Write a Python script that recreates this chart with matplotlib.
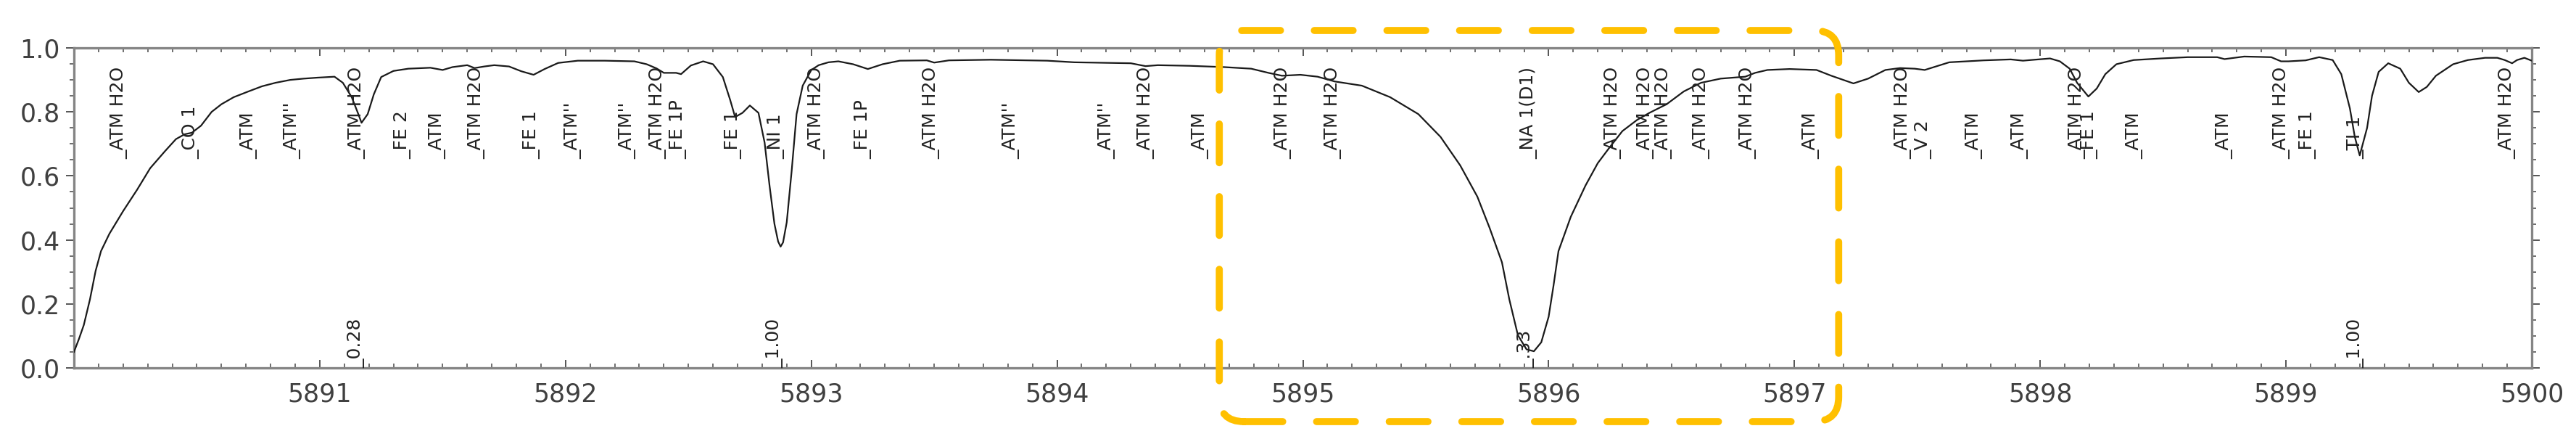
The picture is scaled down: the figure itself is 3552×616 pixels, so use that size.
import numpy as np
import matplotlib
matplotlib.use("Agg")
import matplotlib.pyplot as plt
from matplotlib.patches import FancyBboxPatch
from matplotlib.transforms import IdentityTransform
from matplotlib.ticker import MultipleLocator

# spectrum (wavelength in A, normalised flux)
WAVE = [5890.00, 5890.02, 5890.04, 5890.065, 5890.088, 5890.11, 5890.144, 5890.20, 5890.257, 5890.31,
        5890.37, 5890.415, 5890.45, 5890.48, 5890.517, 5890.56, 5890.60, 5890.65, 5890.71, 5890.765,
        5890.82, 5890.88, 5890.935, 5890.99, 5891.06, 5891.094, 5891.13, 5891.155, 5891.17, 5891.195,
        5891.22, 5891.25, 5891.30, 5891.36, 5891.42, 5891.45, 5891.50, 5891.54, 5891.60, 5891.63,
        5891.67, 5891.71, 5891.77, 5891.82, 5891.87, 5891.915, 5891.97, 5892.05, 5892.16, 5892.28,
        5892.33, 5892.37, 5892.40, 5892.45, 5892.47, 5892.51, 5892.56, 5892.60, 5892.64, 5892.67,
        5892.69, 5892.72, 5892.75, 5892.785, 5892.81, 5892.83, 5892.85, 5892.865, 5892.875, 5892.885,
        5892.90, 5892.92, 5892.94, 5892.965, 5893.00, 5893.03, 5893.07, 5893.11, 5893.17, 5893.23,
        5893.29, 5893.36, 5893.47, 5893.50, 5893.56, 5893.73, 5893.96, 5894.07, 5894.30, 5894.36,
        5894.41, 5894.54, 5894.68, 5894.79, 5894.86, 5894.915, 5894.99, 5895.06, 5895.13, 5895.24,
        5895.355, 5895.47, 5895.56, 5895.64, 5895.71, 5895.76, 5895.81, 5895.84, 5895.875, 5895.91,
        5895.94, 5895.97, 5896.00, 5896.02, 5896.04, 5896.09, 5896.15, 5896.20, 5896.245, 5896.30,
        5896.36, 5896.41, 5896.48, 5896.55, 5896.62, 5896.70, 5896.80, 5896.84, 5896.89, 5896.98,
        5897.09, 5897.15, 5897.24, 5897.30, 5897.37, 5897.43, 5897.49, 5897.53, 5897.63, 5897.77,
        5897.88, 5897.93, 5897.96, 5898.04, 5898.08, 5898.12, 5898.15, 5898.196, 5898.23, 5898.265,
        5898.31, 5898.38, 5898.49, 5898.60, 5898.72, 5898.75, 5898.83, 5898.94, 5898.98, 5899.01,
        5899.08, 5899.135, 5899.19, 5899.225, 5899.26, 5899.28, 5899.30, 5899.33, 5899.35, 5899.377,
        5899.416, 5899.465, 5899.50, 5899.54, 5899.573, 5899.61, 5899.68, 5899.74, 5899.81, 5899.86,
        5899.89, 5899.92, 5899.94, 5899.97, 5900.00]
FLUX = [0.050, 0.090, 0.134, 0.214, 0.303, 0.365, 0.419, 0.490, 0.557, 0.624,
        0.677, 0.715, 0.730, 0.735, 0.757, 0.800, 0.824, 0.846, 0.864, 0.880,
        0.891, 0.900, 0.904, 0.907, 0.910, 0.891, 0.846, 0.797, 0.766, 0.793,
        0.855, 0.909, 0.928, 0.935, 0.937, 0.938, 0.931, 0.940, 0.946, 0.937,
        0.942, 0.946, 0.942, 0.927, 0.916, 0.934, 0.953, 0.960, 0.960, 0.958,
        0.949, 0.936, 0.922, 0.922, 0.918, 0.945, 0.958, 0.949, 0.909, 0.837,
        0.784, 0.797, 0.820, 0.797, 0.704, 0.570, 0.450, 0.395, 0.379, 0.392,
        0.455, 0.615, 0.793, 0.882, 0.931, 0.946, 0.955, 0.958, 0.949, 0.934,
        0.949, 0.960, 0.961, 0.954, 0.961, 0.963, 0.960, 0.955, 0.952, 0.943,
        0.946, 0.944, 0.940, 0.935, 0.922, 0.913, 0.916, 0.910, 0.895, 0.882,
        0.846, 0.793, 0.722, 0.633, 0.535, 0.437, 0.330, 0.214, 0.102, 0.058,
        0.052, 0.080, 0.160, 0.258, 0.365, 0.472, 0.570, 0.640, 0.686, 0.740,
        0.775, 0.797, 0.824, 0.864, 0.891, 0.904, 0.910, 0.922, 0.931, 0.934,
        0.931, 0.913, 0.889, 0.904, 0.931, 0.937, 0.935, 0.931, 0.955, 0.961,
        0.964, 0.960, 0.962, 0.967, 0.958, 0.935, 0.891, 0.848, 0.873, 0.918,
        0.949, 0.962, 0.967, 0.971, 0.971, 0.965, 0.973, 0.971, 0.958, 0.958,
        0.961, 0.971, 0.962, 0.918, 0.811, 0.722, 0.664, 0.750, 0.850, 0.925,
        0.952, 0.935, 0.891, 0.862, 0.878, 0.913, 0.949, 0.962, 0.969, 0.969,
        0.962, 0.952, 0.962, 0.969, 0.960]

# line identifications (upper row)
LINE_WL = [5890.20, 5890.494, 5890.73, 5890.907, 5891.17, 5891.356, 5891.497, 5891.655, 5891.88,
           5892.05, 5892.27, 5892.395, 5892.475, 5892.70, 5892.875, 5893.04, 5893.23, 5893.505,
           5893.83, 5894.22, 5894.38, 5894.60, 5894.937, 5895.14, 5895.937, 5896.28, 5896.414,
           5896.487, 5896.64, 5896.83, 5897.086, 5897.46, 5897.544, 5897.75, 5897.934, 5898.168,
           5898.219, 5898.40, 5898.767, 5899.00, 5899.106, 5899.30, 5899.918]
LINE_ID = ["ATM H2O", "CO 1", "ATM", "ATM''", "ATM H2O", "FE 2", "ATM", "ATM H2O", "FE 1",
           "ATM''", "ATM''", "ATM H2O", "FE 1P", "FE 1", "NI 1", "ATM H2O", "FE 1P", "ATM H2O",
           "ATM''", "ATM''", "ATM H2O", "ATM", "ATM H2O", "ATM H2O", "NA 1(D1)", "ATM H2O", "ATM H2O",
           "ATM H2O", "ATM H2O", "ATM H2O", "ATM", "ATM H2O", "V 2", "ATM", "ATM", "ATM H2O",
           "FE 1", "ATM", "ATM", "ATM H2O", "FE 1", "TI 1", "ATM H2O"]

# values written at the bottom of the panel
EW_WL = [5891.166, 5892.87, 5895.925, 5899.30]
EW_TXT = ["0.28", "1.00", ".33", "1.00"]

# highlighted wavelength range (dashed box)
BOX_WL = (5894.66, 5897.18)

W, H, DPI = 3552, 616, 100
fig = plt.figure(figsize=(W / DPI, H / DPI), dpi=DPI)
ax = fig.add_axes([102 / W, 1 - 507 / H, (3491 - 102) / W, (507 - 66) / H])

ax.plot(WAVE, FLUX, color="#1a1a1a", lw=1.6, zorder=3)
ax.set_xlim(5890, 5900)
ax.set_ylim(0, 1.0)

gray = "#858585"
for s in ax.spines.values():
    s.set_color(gray)
    s.set_linewidth(2.4)

ax.xaxis.set_major_locator(MultipleLocator(1))
ax.xaxis.set_minor_locator(MultipleLocator(0.1))
ax.yaxis.set_major_locator(MultipleLocator(0.2))
ax.yaxis.set_minor_locator(MultipleLocator(0.05))
ax.tick_params(axis="x", which="both", direction="in", top=True, bottom=True, color="#555555")
ax.tick_params(axis="x", which="major", length=8, width=1.4, pad=14)
ax.tick_params(axis="x", which="minor", length=4, width=1.2)
ax.tick_params(axis="y", which="both", direction="out", left=True, right=True, color="#555555")
ax.tick_params(axis="y", which="major", length=8, width=1.4, pad=6)
ax.tick_params(axis="y", which="minor", length=4, width=1.2)
ax.tick_params(labelsize=25, labelcolor="#404040")
ax.set_xticks(np.arange(5891, 5901, 1))
ax.set_xticklabels([str(v) for v in range(5891, 5901)])
ax.set_yticklabels([f"{v:.1f}" for v in ax.get_yticks()])

for wl, name in zip(LINE_WL, LINE_ID):
    ax.text(wl, 0.652, "_" + name, rotation=90, rotation_mode="anchor", ha="left", va="baseline",
            fontsize=18, color="#222222", zorder=4)
for wl, t in zip(EW_WL, EW_TXT):
    ax.text(wl, 0.0, "_" + t, rotation=90, rotation_mode="anchor", ha="left", va="baseline",
            fontsize=18, color="#222222", zorder=4)

# dashed rounded highlight box, drawn in pixel space so the corners stay round
x0, _ = ax.transData.transform((BOX_WL[0], 0))
x1, _ = ax.transData.transform((BOX_WL[1], 0))
y0, y1 = H - 581, H - 42
box = FancyBboxPatch((x0, y0), x1 - x0, y1 - y0, boxstyle="round,pad=0,rounding_size=34",
                     transform=IdentityTransform(), fill=False, edgecolor="#FFC000", lw=7,
                     linestyle=(0, (5.5, 4.8)), capstyle="round", zorder=10)
fig.add_artist(box)

fig.savefig("out.png", dpi=DPI)
